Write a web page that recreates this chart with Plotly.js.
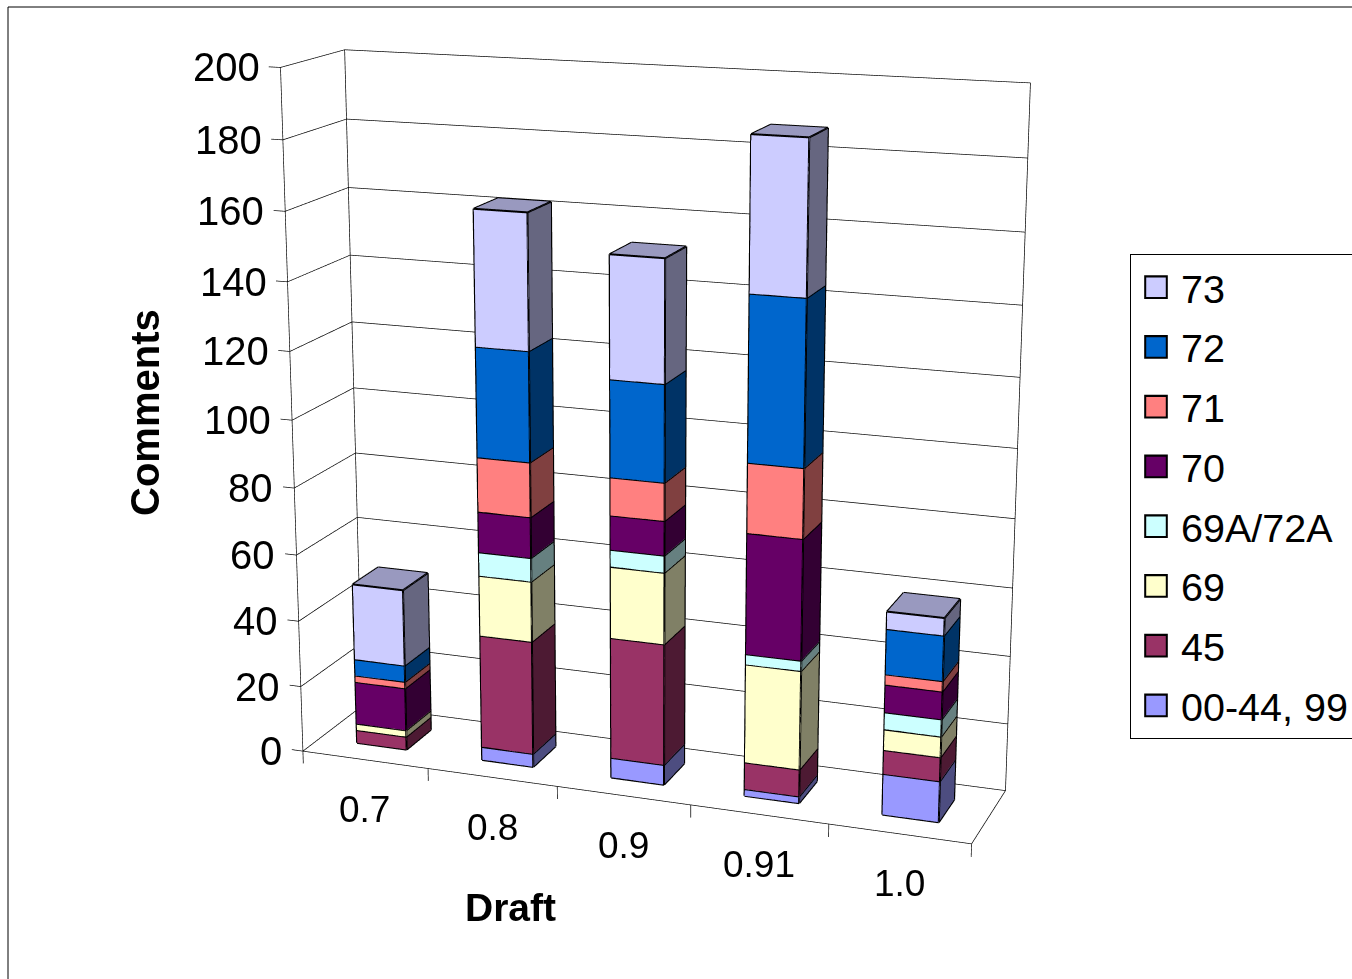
<!DOCTYPE html>
<html><head><meta charset="utf-8">
<script src="https://cdn.plot.ly/plotly-3.0.1.min.js"></script>
<style>html,body{margin:0;padding:0;overflow:hidden;background:#fff;width:1352px;height:979px}
#g{position:absolute;left:0;top:-747px;width:1700px;height:2368px}</style></head>
<body><div id="g"></div>
<script>
const categories=['0.7','0.8','0.9','0.91','1.0'];
const seriesNames=['73','72','71','70','69A/72A','69','45','00-44, 99'];
const s00=[0,4,6,2,12];
const s45=[4,34,36,8,7];
const s69=[2,18,21,29,6];
const s69A=[0,7,5,3,5];
const s70=[13,12,10,35,8];
const s71=[2,16,11,20,3];
const s72=[5,32,28,47,13];
const s73=[23,39,35,43,5];
const zTicks=[0,20,40,60,80,100,120,140,160,180,200];
const stack=[[s00,'#9999FF'],[s45,'#993366'],[s69,'#FFFFCC'],[s69A,'#CCFFFF'],[s70,'#660066'],[s71,'#FF8080'],[s72,'#0066CC'],[s73,'#CCCCFF']];
const legendColors=['#CCCCFF','#0066CC','#FF8080','#660066','#CCFFFF','#FFFFCC','#993366','#9999FF'];

const W=1700,H=2368,TOP=-747;
const px=x=>x/W, py=y=>1-(y-TOP)/H;
function shade(c,k){const n=parseInt(c.slice(1),16);return 'rgb('+[(n>>16)&255,(n>>8)&255,n&255].map(v=>Math.round(v*k)).join(',')+')';}

const barW=0.4, y0=0.285, y1=0.715;
const data=[];
const ex=[],ey=[],ez=[];
function seg(a,b){ex.push(a[0],b[0],null);ey.push(a[1],b[1],null);ez.push(a[2],b[2],null);}
const base=categories.map(()=>0);
stack.forEach(([vals,col])=>{
  const X=[],Y=[],Z=[],I=[],J=[],K=[],FC=[];
  vals.forEach((v,c)=>{
    if(!v)return;
    const a=c+0.5-barW/2,b=c+0.5+barW/2,z0=base[c],z1=z0+v;base[c]=z1;
    const n=X.length;
    [[a,y0,z0],[b,y0,z0],[b,y0,z1],[a,y0,z1],[a,y1,z0],[b,y1,z0],[b,y1,z1],[a,y1,z1]].forEach(p=>{X.push(p[0]);Y.push(p[1]);Z.push(p[2]);});
    const faces=[[0,1,2,1],[0,2,3,1],[1,5,6,.5],[1,6,2,.5],[3,2,6,.75],[3,6,7,.75]];
    faces.forEach(f=>{I.push(n+f[0]);J.push(n+f[1]);K.push(n+f[2]);FC.push(shade(col,f[3]));});
    const P=i=>[X[n+i],Y[n+i],Z[n+i]];
    [[0,1],[1,2],[2,3],[3,0],[1,5],[5,6],[6,2],[3,7],[7,6]].forEach(e=>seg(P(e[0]),P(e[1])));
  });
  if(X.length)data.push({type:'mesh3d',x:X,y:Y,z:Z,i:I,j:J,k:K,facecolor:FC,flatshading:true,
    lighting:{ambient:1,diffuse:0,specular:0,fresnel:0,roughness:1},hoverinfo:'skip',showscale:false,showlegend:false});
});
data.push({type:'scatter3d',mode:'lines',x:ex,y:ey,z:ez,line:{color:'#000',width:4},hoverinfo:'skip',showlegend:false});
// walls, gridlines, ticks
const wx=[],wy=[],wz=[];
function wseg(a,b){wx.push(a[0],b[0],null);wy.push(a[1],b[1],null);wz.push(a[2],b[2],null);}
const N=categories.length;
zTicks.forEach(t=>{wseg([-0.09,0,t],[0,0,t]);wseg([0,0,t],[0,1,t]);wseg([0,1,t],[N,1,t]);});
wseg([0,0,0],[0,0,200]);wseg([0,1,0],[0,1,200]);wseg([N,1,0],[N,1,200]);
wseg([0,0,0],[N,0,0]);wseg([N,0,0],[N,1,0]);
for(let c=0;c<=N;c++)wseg([c,0,0],[c,0,-3.8]);
data.push({type:'scatter3d',mode:'lines',x:wx,y:wy,z:wz,line:{color:'#000',width:1.4},hoverinfo:'skip',showlegend:false});
// legend entries
seriesNames.forEach((n,i)=>data.push({type:'scatter',mode:'markers',x:[null],y:[null],name:n,legendgroup:'g'+i,
  marker:{symbol:'square',size:20,color:legendColors[i],line:{color:'#000',width:1.5}},hoverinfo:'skip'}));

const AX={visible:false,showgrid:false,zeroline:false,showspikes:false,showbackground:false};
const a=20*Math.PI/180,e=15*Math.PI/180,d=3.95;
const annotations=[];
zTicks.forEach(t=>annotations.push({x:0,y:0,z:t,text:String(t),showarrow:false,xanchor:'right',xshift:-19,font:{size:40,color:'#000'}}));
categories.forEach((c,i)=>annotations.push({x:i+0.5,y:0,z:0,text:c,showarrow:false,xshift:0,yshift:-50,font:{size:37,color:'#000'}}));
const layout={width:W,height:H,margin:{l:0,r:0,t:0,b:0,autoexpand:false},paper_bgcolor:'#fff',plot_bgcolor:'#fff',
  font:{family:'"Liberation Sans",Arial,sans-serif',size:36,color:'#000'},
  xaxis:{visible:false,domain:[0,0.01]},yaxis:{visible:false,domain:[0,0.01]},
  scene:{domain:{x:[0,1284/W],y:[0,1]},bgcolor:'#fff',aspectmode:'manual',aspectratio:{x:1.022,y:0.208,z:1.0224},
    xaxis:Object.assign({range:[-0.12,5.03]},AX),yaxis:Object.assign({range:[-0.02,1.02]},AX),zaxis:Object.assign({range:[-4,202]},AX),
    camera:{projection:{type:'perspective'},up:{x:0,y:0,z:1},center:{x:0,y:0,z:0},
      eye:{x:d*Math.sin(a)*Math.cos(e),y:-d*Math.cos(a)*Math.cos(e),z:d*Math.sin(e)}},
    annotations},
  legend:{x:px(1130),xanchor:'left',y:py(254),yanchor:'top',bgcolor:'#fff',bordercolor:'#000',borderwidth:1,
    font:{size:39.5},tracegroupgap:5.4,traceorder:'grouped',itemwidth:40,entrywidth:220,itemclick:false,itemdoubleclick:false},
  showlegend:true,
  annotations:[
    {xref:'paper',yref:'paper',x:px(145),y:py(413),xanchor:'center',yanchor:'middle',text:'<b>Comments</b>',textangle:-90,showarrow:false,font:{size:40}},
    {xref:'paper',yref:'paper',x:px(510),y:py(907),xanchor:'center',yanchor:'middle',text:'<b>Draft</b>',showarrow:false,font:{size:39}}],
  shapes:[{type:'rect',xref:'paper',yref:'paper',x0:px(8),x1:px(1500),y0:py(1100),y1:py(7),line:{color:'#000',width:1}}]
};
Plotly.newPlot('g',data,layout,{displayModeBar:false}).then(()=>{
  document.querySelectorAll('#g .legendpoints path').forEach(p=>{
    p.setAttribute('transform',(p.getAttribute('transform')||'')+' scale(1.35)');
  });
});
</script></body></html>
